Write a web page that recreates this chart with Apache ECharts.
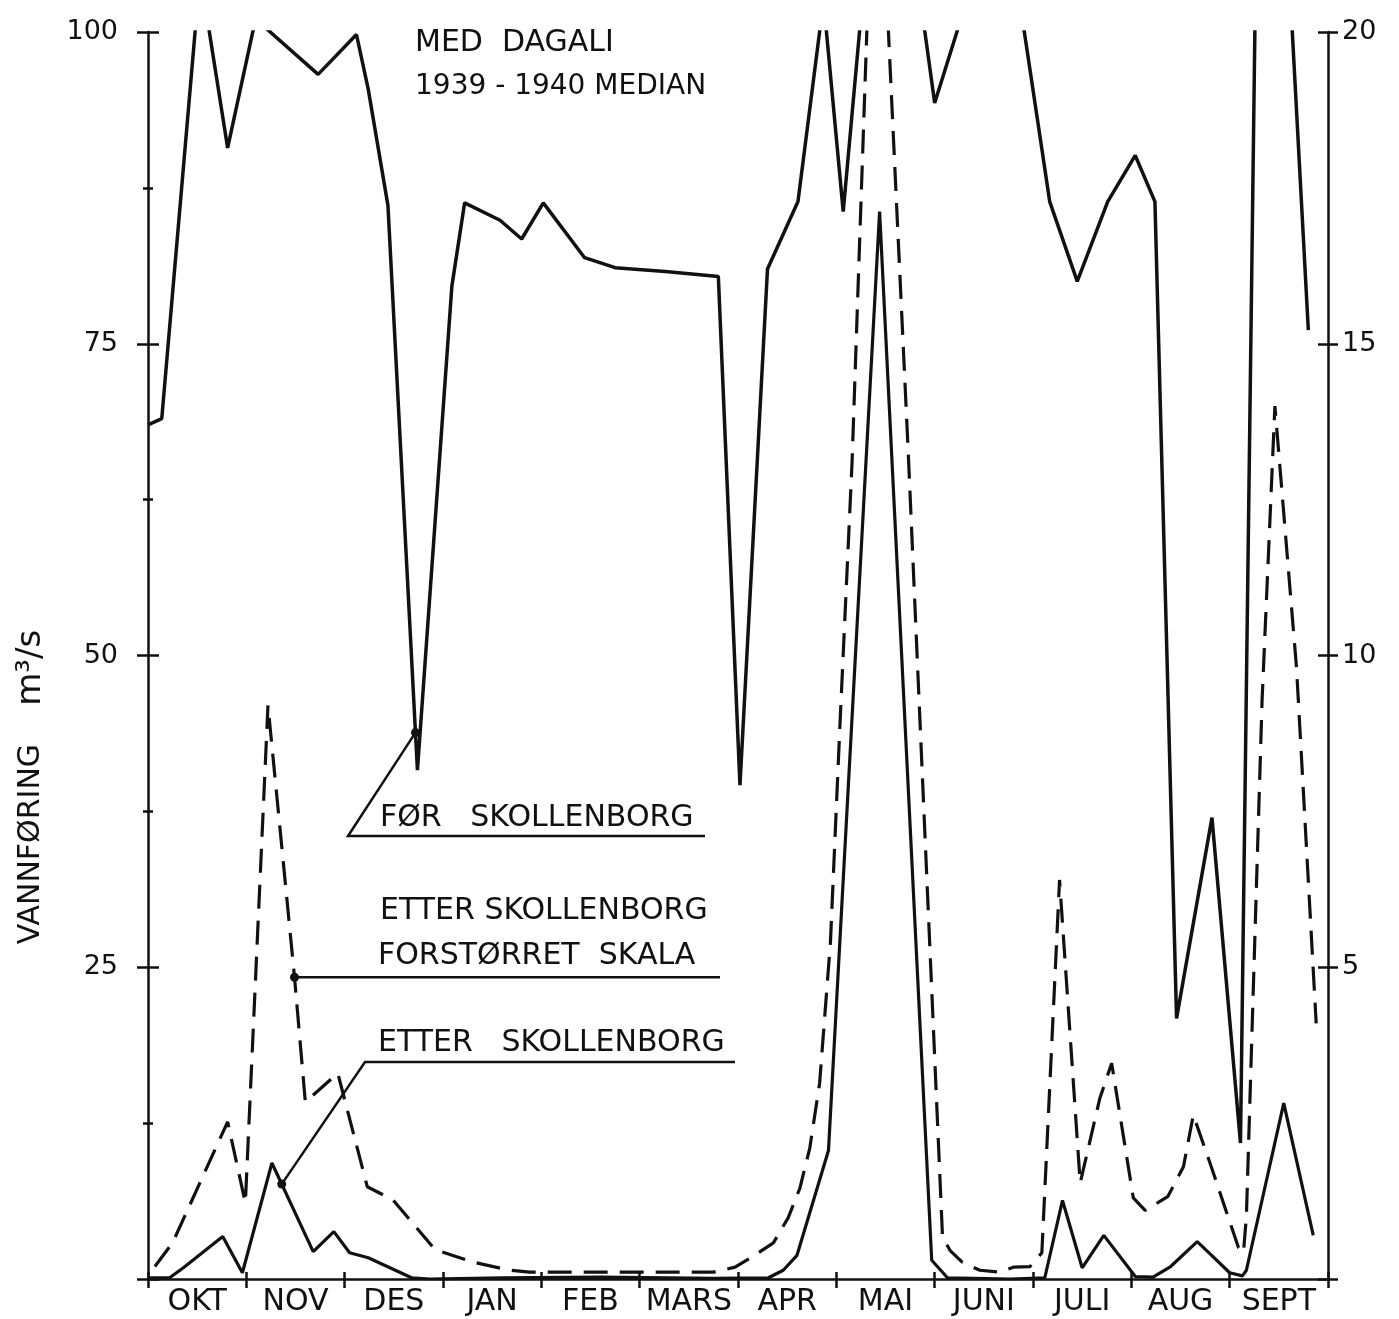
<!DOCTYPE html>
<html>
<head>
<meta charset="utf-8">
<script src="https://cdn.jsdelivr.net/npm/echarts@6/dist/echarts.min.js"></script>
<style>
  html, body { margin: 0; padding: 0; background: #fff; }
  #chart { width: 1399px; height: 1319px; }
</style>
</head>
<body>
<div id="chart"></div>
<script>
// months on the x axis (value axis runs 0..12, one unit per month)
var months = ['OKT', 'NOV', 'DES', 'JAN', 'FEB', 'MARS', 'APR', 'MAI', 'JUNI', 'JULI', 'AUG', 'SEPT'];

// FØR SKOLLENBORG, left axis (m3/s), clipped at 100
var forX = [0.00, 0.14, 0.53, 0.81, 1.12, 1.20, 1.73, 2.12, 2.24, 2.44, 2.74, 3.09, 3.22, 3.58, 3.80, 4.02, 4.44, 4.75, 5.26, 5.80,
  6.02, 6.30, 6.61, 6.87, 7.07, 7.50, 8.00, 8.69, 9.17, 9.45, 9.76, 10.04, 10.24, 10.46, 10.82, 11.11, 11.33, 11.80];
var forY = [68.5, 69.0, 104.7, 90.7, 102.0, 100.3, 96.6, 99.8, 95.4, 86.1, 40.8, 79.6, 86.3, 84.9, 83.4, 86.3, 81.9, 81.1, 80.8, 80.4,
  39.6, 81.0, 86.4, 102.5, 85.6, 123, 94.3, 111.7, 86.4, 80.0, 86.4, 90.1, 86.4, 20.9, 37.0, 10.9, 145, 76.1];

// ETTER SKOLLENBORG, left axis
var etterX = [0.00, 0.22, 0.36, 0.76, 0.96, 1.26, 1.68, 1.89, 2.05, 2.24, 2.68, 2.87, 3.60, 4.60, 5.75, 6.31, 6.46, 6.60, 6.92, 7.44,
  7.97, 8.13, 8.77, 9.12, 9.30, 9.50, 9.72, 10.04, 10.22, 10.40, 10.67, 10.83, 11.00, 11.13, 11.17, 11.55, 11.85];
var etterY = [0.1, 0.1, 0.9, 3.4, 0.5, 9.3, 2.2, 3.8, 2.1, 1.7, 0.1, 0.0, 0.1, 0.15, 0.05, 0.1, 0.7, 1.9, 10.3, 85.6,
  1.5, 0.1, 0.0, 0.1, 6.3, 0.9, 3.5, 0.2, 0.15, 1.0, 3.0, 1.8, 0.5, 0.25, 0.7, 14.1, 3.5];

// ETTER SKOLLENBORG, FORSTØRRET SKALA, right axis (0..20)
var skalaX = [0.07, 0.25, 0.81, 0.99, 1.22, 1.49, 1.60, 1.93, 2.23, 2.49, 2.92, 3.31, 3.68, 3.88, 4.80, 5.75, 5.97, 6.14, 6.36, 6.51,
  6.63, 6.73, 6.83, 6.94, 7.04, 7.16, 7.31, 7.40, 7.53, 7.73, 8.08, 8.16, 8.28, 8.46, 8.66, 8.80, 8.97, 9.09, 9.27, 9.48,
  9.68, 9.80, 10.02, 10.14, 10.37, 10.53, 10.63, 10.80, 11.09, 11.14, 11.17, 11.33, 11.46, 11.68, 11.88];
var skalaY = [0.2, 0.58, 2.52, 1.22, 9.2, 4.84, 2.84, 3.3, 1.48, 1.27, 0.47, 0.27, 0.14, 0.11, 0.11, 0.11, 0.19, 0.35, 0.58, 0.98,
  1.46, 2.1, 3.14, 5.4, 9.0, 13.1, 20.0, 24, 20.0, 13.3, 0.67, 0.45, 0.27, 0.14, 0.11, 0.19, 0.2, 0.42, 6.4, 1.54,
  2.9, 3.46, 1.3, 1.1, 1.32, 1.8, 2.63, 1.86, 0.5, 0.42, 1.0, 9.3, 14.0, 9.8, 4.1];

var leftTicks = [0, 25, 50, 75, 100];
var rightTicks = [0, 5, 10, 15, 20];

var ink = '#111';
var font = 'DejaVu Sans';

function pairs(xs, ys) {
  return xs.map(function(x, i) { return [x, ys[i]]; });
}
function interp(xs, ys, x) {
  for (var i = 1; i < xs.length; i++) {
    if (x <= xs[i]) {
      var t = (x - xs[i - 1]) / (xs[i] - xs[i - 1]);
      return ys[i - 1] + t * (ys[i] - ys[i - 1]);
    }
  }
  return ys[ys.length - 1];
}

var myChart = echarts.init(document.getElementById('chart'));

var tickStyle = { color: ink, width: 2.5 };
var noLabelZero = function(v) { return v === 0 ? '' : String(v); };

var option = {
  backgroundColor: '#fff',
  animation: false,
  grid: { left: 148, right: 71, top: 32, bottom: 40 },
  xAxis: [{
    type: 'category',
    data: months,
    position: 'bottom',
    boundaryGap: true,
    axisLine: { show: true, lineStyle: { color: ink, width: 2.5 } },
    axisTick: { show: true, interval: 0, length: 9, lineStyle: tickStyle },
    axisLabel: { interval: 0, margin: 8, fontSize: 30, color: ink, fontFamily: font },
    splitLine: { show: false }
  }, {
    type: 'value',
    min: 0,
    max: 12,
    interval: 1,
    position: 'bottom',
    axisLine: { show: false, onZero: false },
    axisTick: { show: true, inside: true, length: 7, lineStyle: tickStyle },
    axisLabel: { show: false },
    splitLine: { show: false }
  }],
  yAxis: [{
    type: 'value',
    min: leftTicks[0],
    max: leftTicks[leftTicks.length - 1],
    interval: 25,
    position: 'left',
    axisLine: { show: true, lineStyle: { color: ink, width: 2.5 } },
    axisTick: { show: true, length: 11, lineStyle: tickStyle },
    minorTick: { show: true, splitNumber: 2, length: 5, lineStyle: tickStyle },
    axisLabel: { margin: 30, fontSize: 27, color: ink, fontFamily: font, formatter: noLabelZero },
    splitLine: { show: false }
  }, {
    type: 'value',
    min: 0,
    max: 100,
    interval: 25,
    position: 'left',
    axisLine: { show: false },
    axisTick: { show: true, inside: true, length: 11, lineStyle: tickStyle },
    minorTick: { show: true, splitNumber: 2, length: 5, lineStyle: tickStyle },
    axisLabel: { show: false },
    splitLine: { show: false }
  }, {
    type: 'value',
    min: rightTicks[0],
    max: rightTicks[rightTicks.length - 1],
    interval: 5,
    position: 'right',
    axisLine: { show: true, lineStyle: { color: ink, width: 2.5 } },
    axisTick: { show: true, length: 10, lineStyle: tickStyle },
    axisLabel: { margin: 14, fontSize: 27, color: ink, fontFamily: font, formatter: noLabelZero },
    splitLine: { show: false }
  }, {
    type: 'value',
    min: 0,
    max: 20,
    interval: 5,
    position: 'right',
    axisLine: { show: false },
    axisTick: { show: true, inside: true, length: 10, lineStyle: tickStyle },
    axisLabel: { show: false },
    splitLine: { show: false }
  }],
  series: [{
    name: 'FØR SKOLLENBORG',
    type: 'line',
    xAxisIndex: 1,
    yAxisIndex: 0,
    data: pairs(forX, forY),
    symbol: 'none',
    clip: true,
    lineStyle: { color: ink, width: 3.5 }
  }, {
    name: 'ETTER SKOLLENBORG',
    type: 'line',
    xAxisIndex: 1,
    yAxisIndex: 0,
    data: pairs(etterX, etterY),
    symbol: 'none',
    clip: true,
    lineStyle: { color: ink, width: 3.2 }
  }, {
    name: 'ETTER SKOLLENBORG FORSTØRRET SKALA',
    type: 'line',
    xAxisIndex: 1,
    yAxisIndex: 2,
    data: pairs(skalaX, skalaY),
    symbol: 'none',
    clip: true,
    lineStyle: { color: ink, width: 3.2, type: [24, 12] }
  }]
};

myChart.setOption(option);

// labels with leader lines, anchored to points on the series
function toPx(seriesIndex, x, xs, ys) {
  return myChart.convertToPixel({ seriesIndex: seriesIndex }, [x, interp(xs, ys, x)]);
}
var forDot = toPx(0, 2.72, forX, forY);
var etterDot = toPx(1, 1.36, etterX, etterY);
var skalaDot = toPx(2, 1.49, skalaX, skalaY);

function label(text, x, y, size) {
  return {
    type: 'text', x: x, y: y, z: 10,
    style: {
      text: text, fill: ink, font: (size || 30) + 'px "' + font + '"',
      textAlign: 'left', textVerticalAlign: 'middle', align: 'left', verticalAlign: 'middle'
    }
  };
}
function leader(points) {
  return { type: 'polyline', z: 10, shape: { points: points }, style: { stroke: ink, lineWidth: 2.5, fill: null } };
}
function dot(p) {
  return { type: 'circle', z: 11, shape: { cx: p[0], cy: p[1], r: 4.5 }, style: { fill: ink } };
}

myChart.setOption({
  graphic: [
    label('MED  DAGALI', 415, 43, 30),
    label('1939 - 1940 MEDIAN', 415, 87, 28),
    {
      type: 'text', x: 31, y: 787, rotation: Math.PI / 2, z: 10,
      style: {
        text: '{a|VANNFØRING}{a|    }{b|m³/s}',
        fill: ink,
        textAlign: 'center', textVerticalAlign: 'middle', align: 'center', verticalAlign: 'middle',
        rich: {
          a: { fontSize: 30, fontFamily: font, fill: ink, color: ink },
          b: { fontSize: 34, fontFamily: font, fill: ink, color: ink }
        }
      }
    },
    label('FØR   SKOLLENBORG', 380, 818),
    leader([forDot, [348, 836], [705, 836]]),
    dot(forDot),
    label('ETTER SKOLLENBORG', 380, 911),
    label('FORSTØRRET  SKALA', 378, 956),
    leader([skalaDot, [720, skalaDot[1]]]),
    dot(skalaDot),
    label('ETTER   SKOLLENBORG', 378, 1043),
    leader([etterDot, [365, 1062], [735, 1062]]),
    dot(etterDot)
  ]
});
</script>
</body>
</html>
